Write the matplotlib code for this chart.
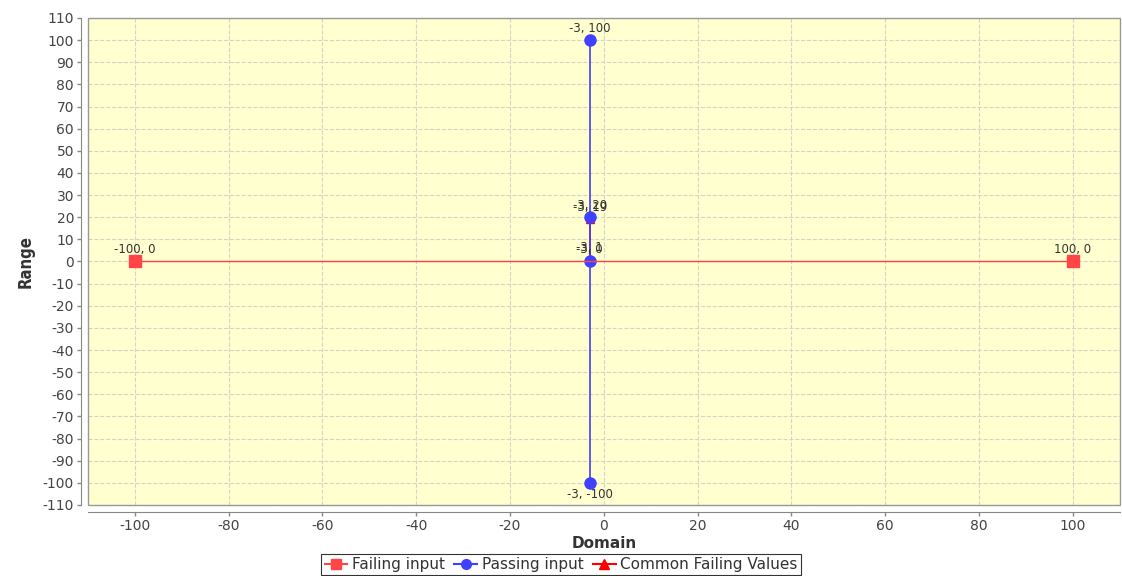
import matplotlib.pyplot as plt
from matplotlib.lines import Line2D
from matplotlib.patches import Rectangle

# dane serii
failing_x = [-100, 100]
failing_y = [0, 0]
passing_x = [-3, -3, -3, -3]
passing_y = [100, 20, 0, -100]
common_x = [-3, -3]
common_y = [19, 1]

x_ticks = list(range(-100, 101, 20))
y_ticks = list(range(-110, 111, 10))

fig = plt.figure(figsize=(11.22, 5.76), dpi=100)
ax = fig.add_axes([0.0784, 0.1233, 0.9196, 0.8455])
ax.set_facecolor("#FFFFD0")

c_fail = "#FF4545"
c_pass = "#4040FF"
c_common = "#FF0000"

# JFreeChart rysuje pierwszą serię na wierzchu
ax.plot(failing_x, failing_y, color=c_fail, lw=1, marker="s", ms=8, zorder=5)
ax.plot(passing_x, passing_y, color=c_pass, lw=1.2, marker="o", ms=8, zorder=4)
ax.plot(common_x, common_y, color=c_common, lw=1.2, marker="^", ms=6, zorder=3)

def label(x, y, below=False):
    ax.annotate(f"{x}, {y}", (x, y),
                xytext=(0, -4 if below else 4), textcoords="offset points",
                ha="center", va="top" if below else "bottom",
                fontsize=8.5, color="#333333", zorder=6)

for x, y in zip(failing_x, failing_y):
    label(x, y)
for x, y in zip(passing_x, passing_y):
    label(x, y, below=(y == -100))
for x, y in zip(common_x, common_y):
    label(x, y)

ax.set_xlim(-110, 110)
ax.set_ylim(-110, 110)
ax.set_xticks(x_ticks)
ax.set_yticks(y_ticks)
ax.set_xticklabels([str(t) for t in x_ticks])
ax.set_yticklabels([str(t) for t in y_ticks])
ax.tick_params(labelsize=10, labelcolor="#444444", color="#888888", length=3, width=1, pad=2)
ax.grid(True, color="#D5D5C5", linestyle="--", linewidth=0.8)
ax.set_axisbelow(True)

for s in ["left", "bottom"]:
    ax.spines[s].set_position(("outward", 5))
    ax.spines[s].set_color("#888888")
for s in ["top", "right"]:
    ax.spines[s].set_visible(False)
ax.add_patch(Rectangle((0, 0), 1, 1, transform=ax.transAxes, fill=False,
                       edgecolor="#999999", lw=1, zorder=7, clip_on=False))

ax.set_xlabel("Domain", fontsize=11, fontweight="bold", color="#333333", labelpad=2)
ax.set_ylabel("Range", fontsize=12, fontweight="bold", color="#333333",
              fontstretch="condensed", labelpad=6)

handles = [
    Line2D([], [], color=c_fail, marker="s", ms=7, lw=1.5),
    Line2D([], [], color=c_pass, marker="o", ms=7, lw=1.5),
    Line2D([], [], color=c_common, marker="^", ms=7, lw=1.5),
]
leg = fig.legend(handles, ["Failing input", "Passing input", "Common Failing Values"],
                 loc="lower center", bbox_to_anchor=(0.5, -0.012), ncol=3,
                 fontsize=11, frameon=True, fancybox=False, handlelength=1.5,
                 handletextpad=0.3, columnspacing=0.6, borderpad=0.2)
leg.get_frame().set_edgecolor("#000000")
leg.get_frame().set_linewidth(0.8)
for t in leg.get_texts():
    t.set_color("#333333")

fig.savefig("out.png", dpi=100)
